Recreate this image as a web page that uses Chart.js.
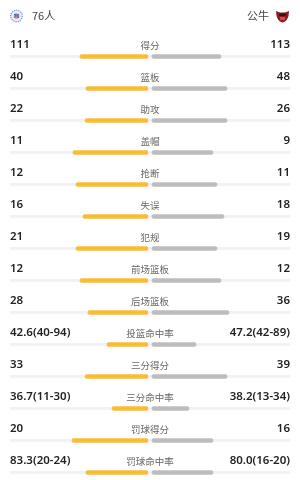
<!DOCTYPE html>
<html><head><meta charset="utf-8">
<script src="https://cdn.jsdelivr.net/npm/chart.js@4/dist/chart.umd.min.js"></script>
<style>html,body{margin:0;padding:0;background:#fff;}#wrap{width:300px;height:480px;position:relative;}</style>
</head><body><div id="wrap"><canvas id="c" width="300" height="480"></canvas></div>
<script>
const homeTeam = '76人';
const awayTeam = '公牛';
const categories = ['得分','篮板','助攻','盖帽','抢断','失误','犯规','前场篮板','后场篮板','投篮命中率','三分得分','三分命中率','罚球得分','罚球命中率'];
const homeLabels = ['111','40','22','11','12','16','21','12','28','42.6(40-94)','33','36.7(11-30)','20','83.3(20-24)'];
const awayLabels = ['113','48','26','9','11','18','19','12','36','47.2(42-89)','39','38.2(13-34)','16','80.0(16-20)'];
// bar lengths, as % of half track
const homeBar = [48.6,44.3,45,53.6,51.4,46.4,51.4,48.6,42.9,29.3,45,25.7,54.3,44.3];
const awayBar = [49.3,53.6,53.6,43.6,46.4,51.4,46.4,49.3,55,31.4,53.6,26.4,43.6,43.6];

const GAP = 1.43;
const YELLOW = '#f7bd3a', GREY = '#bdbdbd', TRACK = '#f1f2f5';

const textPlugin = {
  id: 'texts',
  afterDraw(chart) {
    const ctx = chart.ctx, ys = chart.scales.y, a = chart.chartArea;
    ctx.save();
    ctx.textBaseline = 'middle';
    categories.forEach((c, i) => {
      const y = ys.getPixelForValue(i) - 11.5;
      ctx.fillStyle = '#222';
      ctx.font = '600 11.5px "Noto Sans", Roboto, sans-serif';
      ctx.textAlign = 'left';
      ctx.fillText(homeLabels[i], a.left, y);
      ctx.textAlign = 'right';
      ctx.fillText(awayLabels[i], a.right, y);
      ctx.fillStyle = '#666';
      ctx.font = '9.5px "Noto Sans CJK SC", sans-serif';
      ctx.textAlign = 'center';
      ctx.fillText(c, (a.left + a.right) / 2, y);
    });
    // header
    ctx.fillStyle = '#444';
    ctx.font = '11px "Noto Sans CJK SC", "Noto Sans", sans-serif';
    ctx.textAlign = 'left';
    ctx.fillText(homeTeam, 32, 16);
    ctx.textAlign = 'right';
    ctx.fillText(awayTeam, 269, 16);
    // 76ers logo
    ctx.beginPath(); ctx.arc(16.5, 16, 5.8, 0, Math.PI * 2);
    ctx.fillStyle = '#e8eef8'; ctx.fill();
    ctx.lineWidth = 1.2; ctx.strokeStyle = '#6f8fd0'; ctx.setLineDash([1.2, 1]); ctx.stroke();
    ctx.setLineDash([]);
    ctx.beginPath(); ctx.arc(16.5, 16, 2.8, 0, Math.PI * 2);
    ctx.fillStyle = '#d98aa0'; ctx.fill();
    ctx.fillStyle = '#3c5fb0'; ctx.font = 'bold 5px sans-serif'; ctx.textAlign = 'center';
    ctx.fillText('76', 16.5, 16.3);
    // bulls logo
    ctx.beginPath();
    ctx.moveTo(276, 11); ctx.lineTo(280, 12.5); ctx.lineTo(285, 12.5); ctx.lineTo(289, 11);
    ctx.lineTo(288.5, 16); ctx.quadraticCurveTo(287, 21.5, 282.5, 22.5);
    ctx.quadraticCurveTo(278, 21.5, 276.5, 16); ctx.closePath();
    ctx.fillStyle = '#8e1b22'; ctx.fill();
    ctx.fillStyle = '#2a1a1a'; ctx.fillRect(279, 13.5, 7, 2.5);
    ctx.fillStyle = '#d8464e'; ctx.fillRect(280, 17, 5, 3);
    ctx.restore();
  }
};

new Chart(document.getElementById('c'), {
  type: 'bar',
  data: {
    labels: categories,
    datasets: [
      { data: homeBar.map(v => [-(GAP + v), -GAP]), backgroundColor: YELLOW, barThickness: 4, borderRadius: 2, borderSkipped: false, grouped: false, clip: false, order: 1 },
      { data: awayBar.map(v => [GAP, GAP + v]), backgroundColor: GREY, barThickness: 4, borderRadius: 2, borderSkipped: false, grouped: false, clip: false, order: 1 },
      { data: categories.map(() => [-100, 100]), backgroundColor: TRACK, barThickness: 2.5, borderRadius: 1.25, borderSkipped: false, grouped: false, clip: false, order: 5 }
    ]
  },
  options: {
    indexAxis: 'y',
    responsive: false,
    animation: false,
    events: [],
    layout: { padding: { left: 10, right: 10, top: 56.5, bottom: 7.5 } },
    plugins: { legend: { display: false }, tooltip: { enabled: false } },
    scales: {
      x: { display: false, min: -100, max: 100 },
      y: { display: false, offset: false }
    }
  },
  plugins: [textPlugin]
});
</script></body></html>
